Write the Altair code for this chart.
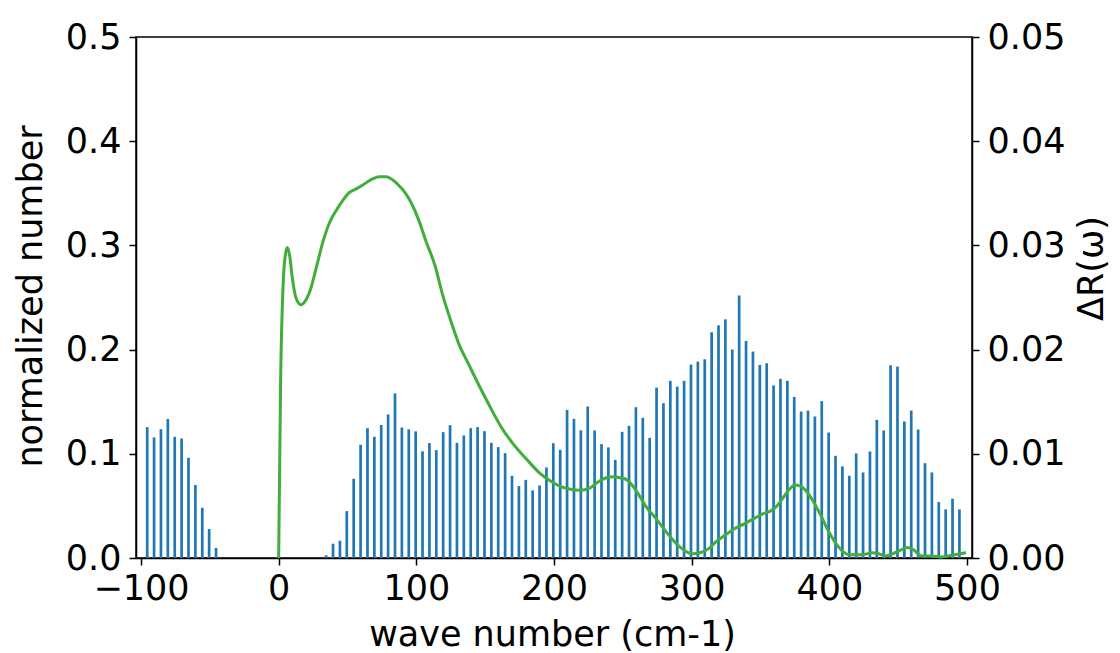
import altair as alt
import pandas as pd

# Histogram bars (wave number position, normalized number)
bar_x = [-95.5, -90.5, -85.5, -80.5, -75.5, -70.5, -65.5, -60.5, -55.5, -50.5, -45.5,
         34.5, 39.5, 44.5, 49.5, 54.5, 59.5, 64.5, 69.5, 74.5, 79.5,
         84.5, 89.5, 94.5, 99.5, 104.5, 109.5, 114.5, 119.5, 124.5, 129.5,
         134.5, 139.5, 144.5, 149.5, 154.5, 159.5, 164.5, 169.5, 174.5, 179.5,
         184.5, 189.5, 194.5, 199.5, 204.5, 209.5, 214.5, 219.5, 224.5, 229.5,
         234.5, 239.5, 244.5, 249.5, 254.5, 259.5, 264.5, 269.5, 274.5, 279.5,
         284.5, 289.5, 294.5, 299.5, 304.5, 309.5, 314.5, 319.5, 324.5, 329.5,
         334.5, 339.5, 344.5, 349.5, 354.5, 359.5, 364.5, 369.5, 374.5, 379.5,
         384.5, 389.5, 394.5, 399.5, 404.5, 409.5, 414.5, 419.5, 424.5, 429.5,
         434.5, 439.5, 444.5, 449.5, 454.5, 459.5, 464.5, 469.5, 474.5, 479.5,
         484.5, 489.5, 494.5]
bar_y = [0.1256, 0.1157, 0.1236, 0.1335, 0.1163, 0.1147, 0.0962, 0.070, 0.0482, 0.0278, 0.0096,
         0.0026, 0.0137, 0.0166, 0.045, 0.076, 0.1086, 0.1246, 0.1163, 0.1277, 0.1378,
         0.158, 0.1252, 0.1235, 0.1215, 0.1024, 0.1103, 0.1035, 0.1208, 0.1275, 0.1105,
         0.1176, 0.1246, 0.1256, 0.1217, 0.1105, 0.1064, 0.1006, 0.0789, 0.069, 0.075,
         0.0649, 0.0696, 0.0869, 0.1102, 0.1038, 0.1422, 0.1335, 0.1225, 0.1454, 0.1224,
         0.1093, 0.1061, 0.0942, 0.1211, 0.1268, 0.1447, 0.1345, 0.1153, 0.1636, 0.1486,
         0.170, 0.1645, 0.170, 0.1856, 0.1885, 0.1907, 0.2166, 0.2233, 0.229, 0.200,
         0.2518, 0.2083, 0.1981, 0.1852, 0.1869, 0.1656, 0.1719, 0.170, 0.1546, 0.1406,
         0.1415, 0.1358, 0.1505, 0.1204, 0.0981, 0.0879, 0.0789, 0.1003, 0.0821, 0.1022,
         0.1326, 0.1224, 0.185, 0.1837, 0.131, 0.1415, 0.1233, 0.091, 0.0821, 0.0537,
         0.0466, 0.0569, 0.0466]

# Delta R(omega) curve
line_x = [0, 1.4, 3.3, 5, 6.2, 8, 9.8, 12.5, 16.2, 19, 22.9, 27, 32.5, 37, 42, 47, 51.6, 56,
          61.1, 67, 73.1, 78, 82.7, 87, 92.2, 97, 101.8, 107, 113.7, 119, 125.7, 131, 137.6,
          145, 152, 161.5, 170, 180.6, 190, 199.8, 206, 212, 218.9, 226, 232, 238, 243, 248,
          253, 259.5, 267, 274, 284, 292, 300.4, 306, 312.4, 318, 324.3, 331, 338.6, 345.5,
          352.9, 357.1, 362, 367, 371, 375, 379, 383.4, 388, 393, 400.1, 407, 414.5, 423,
          431.3, 436, 440.9, 446, 451, 456.4, 461, 467.2, 474, 481.5, 486, 491, 495, 499.3]
line_y = [0.0, 0.0168, 0.0264, 0.0292, 0.0298, 0.0290, 0.0270, 0.0250, 0.0243, 0.0246, 0.0257,
          0.0277, 0.0305, 0.0322, 0.0334, 0.0344, 0.0351, 0.0354, 0.0358, 0.0363, 0.0366,
          0.0366, 0.0363, 0.0358, 0.0350, 0.0339, 0.0324, 0.0304, 0.0280, 0.0253, 0.0225,
          0.0205, 0.0187, 0.0167, 0.0149, 0.0126, 0.0110, 0.0094, 0.0081, 0.0072, 0.0068,
          0.0066, 0.0065, 0.0067, 0.0073, 0.0077, 0.0078, 0.0077, 0.0075, 0.0065, 0.0049,
          0.0038, 0.0021, 0.0010, 0.0004, 0.0005, 0.0009, 0.0016, 0.0022, 0.0028, 0.0033,
          0.0038, 0.0043, 0.0045, 0.0050, 0.0059, 0.0066, 0.0070, 0.0069, 0.0064, 0.0055,
          0.0043, 0.0024, 0.0010, 0.0003, 0.0003, 0.0005, 0.0004, 0.0002, 0.0004, 0.0007,
          0.0010, 0.0008, 0.0002, 0.0002, 0.0001, 0.0002, 0.0003, 0.0004, 0.0005]

x_ticks = [-100, 0, 100, 200, 300, 400, 500]
left_ticks = [0.0, 0.1, 0.2, 0.3, 0.4, 0.5]
right_ticks = [0.0, 0.01, 0.02, 0.03, 0.04, 0.05]

bars_df = pd.DataFrame({"x": bar_x, "y": bar_y})
line_df = pd.DataFrame({"x": line_x, "r": line_y})

FONT = "DejaVu Sans"

x_enc = alt.X(
    "x:Q",
    scale=alt.Scale(domain=[-100, 500], nice=False, zero=False),
    axis=alt.Axis(values=x_ticks, title="wave number (cm-1)", format="d",
                  labelFlush=False, labelPadding=6,
                  titleX=416, titleY=87, titleBaseline="alphabetic", titleAlign="center"),
)

bars = alt.Chart(bars_df).mark_bar(width=2.7, color="#1f77b4").encode(
    x=x_enc,
    y=alt.Y("y:Q", scale=alt.Scale(domain=[0, 0.5], nice=False),
            axis=alt.Axis(values=left_ticks, format=".1f", title="normalized number",
                          orient="left", labelFlush=False, labelPadding=8,
                          titleX=-106, titleY=259, titleAngle=270,
                          titleBaseline="middle", titleAlign="center")),
)

line = alt.Chart(line_df).mark_line(color="#3fae3a", strokeWidth=3,
                                    interpolate="monotone").encode(
    x=alt.X("x:Q"),
    y=alt.Y("r:Q", scale=alt.Scale(domain=[0, 0.05], nice=False),
            axis=alt.Axis(values=right_ticks, format=".2f", title="ΔR(ω)",
                          orient="right", labelFlush=False, labelPadding=8,
                          titleX=119, titleY=231, titleAngle=270,
                          titleBaseline="middle", titleAlign="center")),
)

chart = (
    alt.layer(bars, line)
    .resolve_scale(y="independent")
    .properties(
        width=836,
        height=521,
        autosize=alt.AutoSizeParams(type="none"),
        padding={"left": 128, "top": 29, "right": 140, "bottom": 95},
        background="white",
    )
    .configure_axis(
        labelFont=FONT, titleFont=FONT, labelFontSize=35, titleFontSize=35,
        titleFontWeight="normal", labelColor="black", titleColor="black",
        domainColor="black", tickColor="black", tickSize=7, tickWidth=1.5,
        domainWidth=1.5, grid=False,
    )
    .configure_view(stroke="black", strokeWidth=1.5)
)

chart.save("out.html", embed_options={"renderer": "svg", "actions": False})
